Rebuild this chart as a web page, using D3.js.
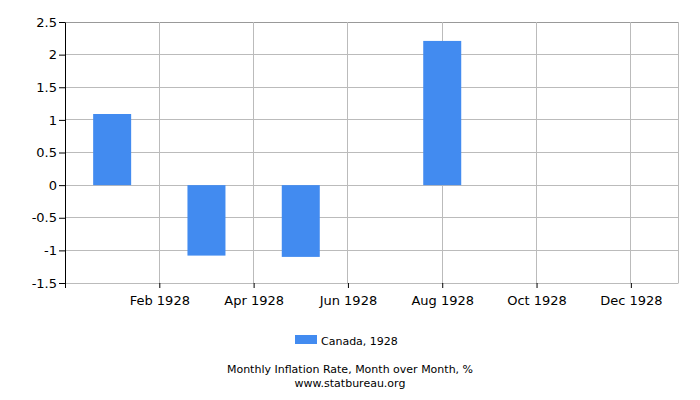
<!DOCTYPE html>
<html>
<head>
<meta charset="utf-8">
<script src="https://cdn.jsdelivr.net/npm/d3@7"></script>
<style>
  body { margin: 0; background: #fff; }
  text { font-family: "DejaVu Sans", sans-serif; }
</style>
</head>
<body>
<svg id="chart" width="700" height="400"></svg>
<script>
// months from Dec 1927 to Jan 1929, index 0..13
const months = ["Dec 1927", "Jan 1928", "Feb 1928", "Mar 1928", "Apr 1928", "May 1928", "Jun 1928",
  "Jul 1928", "Aug 1928", "Sep 1928", "Oct 1928", "Nov 1928", "Dec 1928", "Jan 1929"]
const barMonths = ["Jan 1928", "Mar 1928", "May 1928", "Aug 1928"]
const barValues = [1.09, -1.08, -1.1, 2.21]
const xTickLabels = ["Feb 1928", "Apr 1928", "Jun 1928", "Aug 1928", "Oct 1928", "Dec 1928"]
const yTicks = [-1.5, -1, -0.5, 0, 0.5, 1, 1.5, 2, 2.5]

const margin = {top: 22, right: 22, bottom: 117, left: 65}
const width = 700, height = 400

const svg = d3.select("#chart")

const xScale = d3.scaleLinear()
  .domain([0, months.length - 1])
  .range([margin.left, width - margin.right])

const yScale = d3.scaleLinear()
  .domain([-1.5, 2.5])
  .range([height - margin.bottom, margin.top])

const barWidth = 38

// grid
svg.append("g").selectAll("line.h")
  .data(yTicks)
  .join("line")
  .attr("x1", margin.left)
  .attr("x2", width - margin.right)
  .attr("y1", d => yScale(d))
  .attr("y2", d => yScale(d))
  .attr("stroke", d => d == 2.5 ? "#999" : "#bbb")
  .attr("stroke-width", 1)
  .attr("shape-rendering", "crispEdges")

svg.append("g").selectAll("line.v")
  .data(xTickLabels)
  .join("line")
  .attr("x1", d => xScale(months.indexOf(d)))
  .attr("x2", d => xScale(months.indexOf(d)))
  .attr("y1", margin.top)
  .attr("y2", height - margin.bottom)
  .attr("stroke", "#bbb")
  .attr("shape-rendering", "crispEdges")

svg.append("line")
  .attr("x1", width - margin.right)
  .attr("x2", width - margin.right)
  .attr("y1", margin.top)
  .attr("y2", height - margin.bottom)
  .attr("stroke", "#bbb")
  .attr("shape-rendering", "crispEdges")

// bars
svg.append("g").selectAll("rect")
  .data(barMonths.map((m, i) => ({m: m, v: barValues[i]})))
  .join("rect")
  .attr("x", d => xScale(months.indexOf(d.m)) - barWidth / 2)
  .attr("width", barWidth)
  .attr("y", d => yScale(Math.max(0, d.v)))
  .attr("height", d => Math.abs(yScale(d.v) - yScale(0)))
  .attr("fill", "#428bf0")

// axes
const yAxis = svg.append("g")
  .attr("transform", `translate(${margin.left},0)`)
  .call(d3.axisLeft(yScale).tickValues(yTicks).tickSize(6).tickSizeOuter(0).tickFormat(d => String(d)))
yAxis.select(".domain").attr("stroke", "#000")
yAxis.selectAll("text").attr("font-size", 13).attr("fill", "#000").attr("x", -8)

const xAxis = svg.append("g")
  .attr("transform", `translate(0,${height - margin.bottom})`)
  .call(d3.axisBottom(xScale)
    .tickValues([0].concat(xTickLabels.map(d => months.indexOf(d))))
    .tickFormat(i => i == 0 ? "" : months[i])
    .tickSize(5).tickSizeOuter(0))
xAxis.select(".domain").attr("stroke", "#bbb")
xAxis.selectAll("text").attr("font-size", 13).attr("fill", "#000").attr("dy", "1.1em")

// legend
svg.append("rect")
  .attr("x", 295).attr("y", 335).attr("width", 22).attr("height", 9)
  .attr("fill", "#428bf0")
svg.append("text")
  .attr("x", 321).attr("y", 345)
  .attr("font-size", 11)
  .text("Canada, 1928")

svg.append("text")
  .attr("x", width / 2).attr("y", 373)
  .attr("text-anchor", "middle")
  .attr("font-size", 11)
  .text("Monthly Inflation Rate, Month over Month, %")
svg.append("text")
  .attr("x", width / 2).attr("y", 386.5)
  .attr("text-anchor", "middle")
  .attr("font-size", 11)
  .text("www.statbureau.org")
</script>
</body>
</html>
